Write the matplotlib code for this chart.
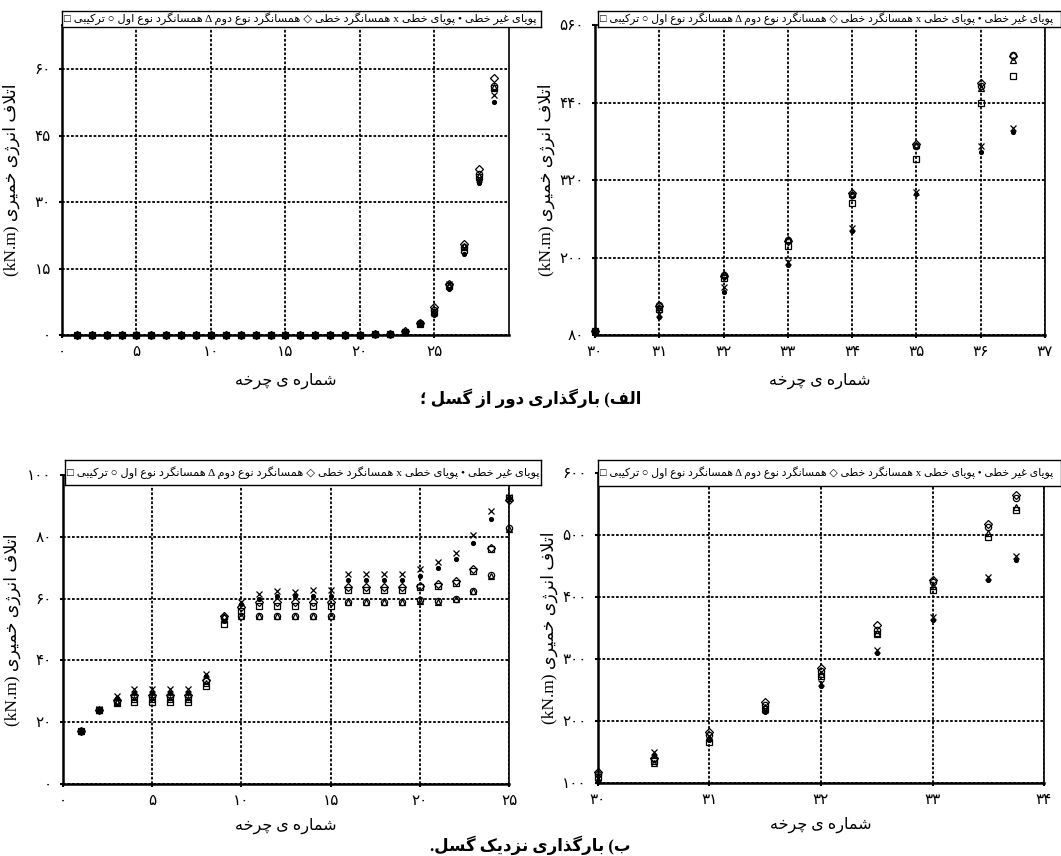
import matplotlib
matplotlib.use('Agg')
import matplotlib.pyplot as plt

plt.rcParams['font.family'] = ['Liberation Serif', 'DejaVu Sans']

# arabic presentation forms: isolated, final, initial, medial (None -> right-joining letter)
FORMS = {
    'ا': ('\uFE8D', '\uFE8E', None, None),
    'ب': ('\uFE8F', '\uFE90', '\uFE91', '\uFE92'),
    'پ': ('\uFB56', '\uFB57', '\uFB58', '\uFB59'),
    'ت': ('\uFE95', '\uFE96', '\uFE97', '\uFE98'),
    'چ': ('\uFB7A', '\uFB7B', '\uFB7C', '\uFB7D'),
    'خ': ('\uFEA5', '\uFEA6', '\uFEA7', '\uFEA8'),
    'د': ('\uFEA9', '\uFEAA', None, None),
    'ذ': ('\uFEAB', '\uFEAC', None, None),
    'ر': ('\uFEAD', '\uFEAE', None, None),
    'ز': ('\uFEAF', '\uFEB0', None, None),
    'ژ': ('\uFB8A', '\uFB8B', None, None),
    'س': ('\uFEB1', '\uFEB2', '\uFEB3', '\uFEB4'),
    'ش': ('\uFEB5', '\uFEB6', '\uFEB7', '\uFEB8'),
    'ط': ('\uFEC1', '\uFEC2', '\uFEC3', '\uFEC4'),
    'ع': ('\uFEC9', '\uFECA', '\uFECB', '\uFECC'),
    'غ': ('\uFECD', '\uFECE', '\uFECF', '\uFED0'),
    'ف': ('\uFED1', '\uFED2', '\uFED3', '\uFED4'),
    'ک': ('\uFB8E', '\uFB8F', '\uFB90', '\uFB91'),
    'گ': ('\uFB92', '\uFB93', '\uFB94', '\uFB95'),
    'ل': ('\uFEDD', '\uFEDE', '\uFEDF', '\uFEE0'),
    'م': ('\uFEE1', '\uFEE2', '\uFEE3', '\uFEE4'),
    'ن': ('\uFEE5', '\uFEE6', '\uFEE7', '\uFEE8'),
    'و': ('\uFEED', '\uFEEE', None, None),
    'ه': ('\uFEE9', '\uFEEA', '\uFEEB', '\uFEEC'),
    'ی': ('\uFBFC', '\uFBFD', '\uFBFE', '\uFBFF'),
}


def shape(text):
    out = []
    i = 0
    while i < len(text):
        c = text[i]
        prev = text[i - 1] if i > 0 else None
        joins_prev = prev in FORMS and FORMS[prev][2] is not None
        if c == 'ل' and i + 1 < len(text) and text[i + 1] == 'ا':
            out.append('\uFEFC' if joins_prev else '\uFEFB')
            i += 2
            continue
        if c not in FORMS:
            out.append(c)
            i += 1
            continue
        nxt = text[i + 1] if i + 1 < len(text) else None
        iso, fin, ini, med = FORMS[c]
        joins_next = nxt in FORMS and ini is not None
        if joins_prev and joins_next:
            out.append(med)
        elif joins_prev:
            out.append(fin)
        elif joins_next:
            out.append(ini)
        else:
            out.append(iso)
        i += 1
    return ''.join(out)


def rtl(text):
    return shape(text)[::-1].translate(str.maketrans('()', ')('))


def fa_num(v):
    return str(v).translate(str.maketrans('0123456789', '۰۱۲۳۴۵۶۷۸۹'))


# ---- data ----
legend_text = 'پویای غیر خطی • پویای خطی x همسانگرد خطی ◇ همسانگرد نوع دوم Δ همسانگرد نوع اول ○ ترکیبی □'
xlabel_text = 'شماره ی چرخه'
ylabel_text = 'اتلاف انرژی خمیری'
caption_a = 'الف) بارگذاری دور از گسل ؛'
caption_b = 'ب) بارگذاری نزدیک گسل.'

# far from fault, all cycles
far_cycles = [1, 2, 3, 4, 5, 6, 7, 8, 9, 10, 11, 12, 13, 14, 15, 16, 17, 18, 19, 20,
              21, 22, 23, 24, 25, 26, 27, 28, 29]
far_zero = [0.0] * 19
far_combined = far_zero + [0.1, 0.15, 0.3, 0.7, 2.6, 5.3, 11.0, 19.3, 35.8, 55.7]
far_iso1 = far_zero + [0.1, 0.15, 0.3, 0.7, 2.7, 5.6, 11.2, 19.8, 36.4, 56.3]
far_iso2 = far_zero + [0.1, 0.15, 0.3, 0.7, 2.7, 5.5, 11.3, 20.2, 36.0, 56.0]
far_lin_iso = far_zero + [0.1, 0.15, 0.3, 0.8, 2.8, 6.3, 11.5, 20.5, 37.6, 58.0]
far_lin_dyn = far_zero + [0.1, 0.15, 0.3, 0.7, 2.6, 5.0, 11.6, 19.6, 35.2, 54.2]
far_nonlin_dyn = far_zero + [0.1, 0.15, 0.3, 0.6, 2.4, 4.6, 10.4, 18.4, 34.4, 52.6]

# far from fault, last cycles
far_end_cycles = [30, 31, 32, 33, 34, 35, 36, 36.5]
far_end_combined = [86, 120, 169, 218, 284, 353, 439, 481]
far_end_iso1 = [86, 126, 173, 227, 297, 372, 466, 513]
far_end_iso2 = [86, 124, 175, 229, 299, 374, 462, 506]
far_end_lin_iso = [87, 125, 172, 226, 300, 376, 470, 512]
far_end_lin_dyn = [85, 113, 154, 193, 246, 302, 372, 400]
far_end_nonlin_dyn = [84, 108, 147, 188, 241, 298, 364, 395]

# near fault, all cycles
near_cycles = [1, 2, 3, 4, 5, 6, 7, 8, 9, 10, 11, 12, 13, 14, 15, 16, 17, 18, 19, 20,
               21, 22, 23, 24, 25]
near_combined = [17, 23.8, 26.3, 26.6, 26.6, 26.6, 26.6, 31.6, 51.8, 56.0, 57.7, 57.7, 57.7,
                 57.7, 57.7, 62.7, 62.7, 62.7, 62.7, 63.6, 64.1, 65.2, 69.0, 75.9, 92.5]
near_iso1 = [17, 24, 27.0, 28.2, 28.2, 28.2, 28.2, 33.2, 53.6, 54.5, 54.5, 54.5, 54.5,
             54.5, 54.5, 58.8, 58.8, 58.8, 58.8, 59.4, 59.2, 60.0, 62.6, 67.6, 82.9]
near_iso2 = [17, 23.8, 26.6, 27.6, 27.6, 27.6, 27.6, 32.6, 54.5, 54.5, 54.5, 54.5, 54.5,
             54.5, 54.5, 58.8, 58.8, 58.8, 58.8, 59.1, 59.0, 59.8, 62.3, 67.3, 82.6]
near_lin_iso = [17, 24, 27.3, 28.8, 28.8, 28.8, 28.8, 33.8, 54.3, 57.2, 58.8, 58.8, 58.8,
                58.8, 58.8, 63.6, 63.6, 63.6, 63.6, 64.2, 64.8, 65.8, 69.6, 76.5, 92.0]
near_lin_dyn = [17.2, 24.2, 28.4, 30.6, 30.6, 30.6, 30.6, 35.6, 53.0, 58.8, 61.4, 62.3, 62.0,
                62.7, 62.7, 67.9, 67.9, 67.9, 67.9, 69.5, 72.0, 74.8, 80.5, 88.5, 92.8]
near_nonlin_dyn = [17, 24, 27.8, 29.3, 29.3, 29.3, 29.3, 34.8, 52.6, 58.2, 60.0, 60.8, 60.8,
                   60.9, 60.9, 66.0, 66.0, 66.0, 66.0, 67.3, 70.0, 72.7, 78.0, 85.6, 92.5]

# near fault, last cycles
near_end_cycles = [30, 30.5, 31, 31.5, 32, 32.5, 33, 33.5, 33.75]
near_end_combined = [110, 135, 166, 220, 272, 340, 412, 497, 540]
near_end_iso1 = [115, 138, 178, 226, 280, 347, 425, 513, 559]
near_end_iso2 = [105, 132, 172, 223, 276, 342, 418, 503, 545]
near_end_lin_iso = [118, 140, 182, 231, 285, 355, 428, 518, 564]
near_end_lin_dyn = [108, 150, 175, 218, 262, 315, 368, 433, 466]
near_end_nonlin_dyn = [104, 145, 170, 215, 257, 309, 363, 427, 459]

# marker per series: combined, iso type 1, iso type 2, linear iso, linear dynamic, nonlinear dynamic
MARKERS = [('s', 'none', 4.5), ('o', 'none', 4.5), ('^', 'none', 4.5),
           ('D', 'none', 3.6), ('x', 'k', 4.2), ('o', 'k', 2.8)]

panels = [
    dict(rect=[0.0584, 0.6086, 0.4213, 0.3621], leg=[0.0584, 0.9685, 0.4515, 0.0187], leg_fs=8.2,
         x=far_cycles, ys=[far_combined, far_iso1, far_iso2, far_lin_iso, far_lin_dyn, far_nonlin_dyn],
         xlim=(0, 30), xticks=[0, 5, 10, 15, 20, 25], ylim=(0, 70), yticks=[0, 15, 30, 45, 60],
         ylab_x=-0.094, xlab_y=-0.12),
    dict(rect=[0.5608, 0.6086, 0.4241, 0.3621], leg=[0.5636, 0.9685, 0.436, 0.0187], leg_fs=7.8,
         x=far_end_cycles, ys=[far_end_combined, far_end_iso1, far_end_iso2, far_end_lin_iso,
                               far_end_lin_dyn, far_end_nonlin_dyn],
         xlim=(30, 37), xticks=[30, 31, 32, 33, 34, 35, 36, 37], ylim=(80, 560),
         yticks=[80, 200, 320, 440, 560], ylab_x=-0.089, xlab_y=-0.12),
    dict(rect=[0.0594, 0.0841, 0.4204, 0.361], leg=[0.0612, 0.4334, 0.4487, 0.029], leg_fs=8.2,
         x=near_cycles, ys=[near_combined, near_iso1, near_iso2, near_lin_iso, near_lin_dyn, near_nonlin_dyn],
         xlim=(0, 25), xticks=[0, 5, 10, 15, 20, 25], ylim=(0, 100), yticks=[0, 20, 40, 60, 80, 100],
         ylab_x=-0.094, xlab_y=-0.11),
    dict(rect=[0.5636, 0.0853, 0.4204, 0.3621], leg=[0.5636, 0.4322, 0.436, 0.0304], leg_fs=7.8,
         x=near_end_cycles, ys=[near_end_combined, near_end_iso1, near_end_iso2, near_end_lin_iso,
                                near_end_lin_dyn, near_end_nonlin_dyn],
         xlim=(30, 34), xticks=[30, 31, 32, 33, 34], ylim=(100, 600),
         yticks=[100, 200, 300, 400, 500, 600], ylab_x=-0.089, xlab_y=-0.11),
]

fig = plt.figure(figsize=(10.61, 8.56), dpi=100)

for p in panels:
    ax = fig.add_axes(p['rect'])
    for y, (m, fc, ms) in zip(p['ys'], MARKERS):
        ax.plot(p['x'], y, ls='none', marker=m, mfc=fc, mec='k', ms=ms, mew=0.9, color='k',
                clip_on=False, zorder=3)
    ax.set_xlim(*p['xlim'])
    ax.set_ylim(*p['ylim'])
    ax.set_xticks(p['xticks'])
    ax.set_yticks(p['yticks'])
    ax.set_xticklabels([fa_num(t) for t in p['xticks']])
    ax.set_yticklabels([fa_num(t) for t in p['yticks']])
    ax.grid(True, color='k', ls=(0, (1.5, 1)), lw=1.3)
    ax.tick_params(direction='out', length=2, width=1.5, labelsize=11, pad=6)
    for side in ['left', 'bottom']:
        ax.spines[side].set_linewidth(1.8)
    for side in ['right', 'top']:
        ax.spines[side].set_linewidth(1.2)
    ax.set_xlabel(rtl(xlabel_text), fontsize=11.5)
    ax.set_ylabel('(kN.m) ' + rtl(ylabel_text), fontsize=12.5)
    ax.xaxis.set_label_coords(0.5, p['xlab_y'])
    ax.yaxis.set_label_coords(p['ylab_x'], 0.5)

    lax = fig.add_axes(p['leg'])
    lax.set_xticks([])
    lax.set_yticks([])
    lax.set_facecolor('white')
    for s in lax.spines.values():
        s.set_linewidth(1.0)
    lax.text(0.004, 0.5, rtl(legend_text), ha='left', va='center', fontsize=p['leg_fs'],
             transform=lax.transAxes, clip_on=True)

fig.text(0.5, 0.535, rtl(caption_a), ha='center', va='center', fontsize=12, fontweight='bold')
fig.text(0.5, 0.013, rtl(caption_b), ha='center', va='center', fontsize=12, fontweight='bold')

fig.savefig('out.png', dpi=100)
